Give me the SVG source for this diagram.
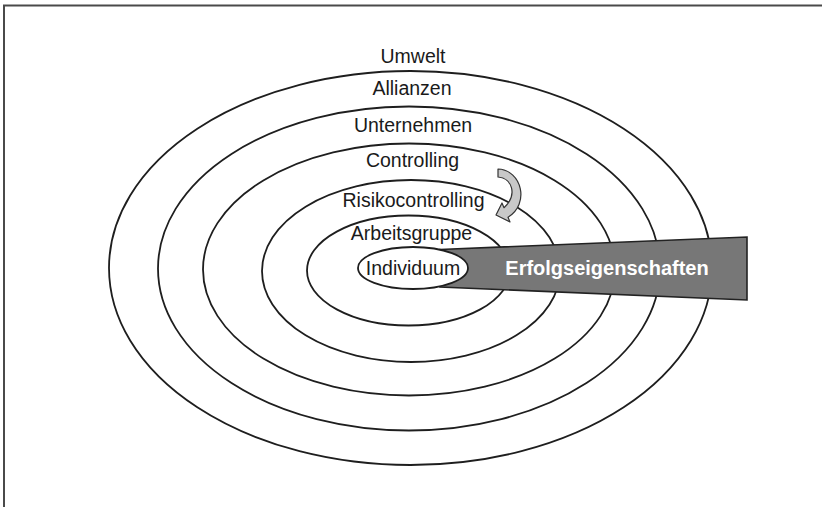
<svg xmlns="http://www.w3.org/2000/svg" width="822" height="507" viewBox="0 0 822 507">
  <style>
    .ring { fill: none; stroke: #1e1e1e; stroke-width: 1.8; }
    .lbl { font-family: "Liberation Sans", Arial, sans-serif; font-size: 19.5px; fill: #1a1a1a; text-anchor: middle; }
    .wlbl { font-family: "Liberation Sans", Arial, sans-serif; font-size: 20px; font-weight: bold; fill: #ffffff; text-anchor: middle; }
  </style>
  <rect width="822" height="507" fill="#ffffff"/>
  <g id="frame">
    <path d="M 4 507 L 4 5.5 L 822 5.5" fill="none" stroke="#4a4a4a" stroke-width="2"/>
  </g>
  <g id="umwelt">
    <text class="lbl" x="413" y="63">Umwelt</text>
  </g>
  <g id="allianzen">
    <ellipse class="ring" cx="410.5" cy="268" rx="301.5" ry="197"/>
    <text class="lbl" x="412" y="95">Allianzen</text>
  </g>
  <g id="unternehmen">
    <ellipse class="ring" cx="409" cy="268.5" rx="251" ry="162"/>
    <text class="lbl" x="413" y="132">Unternehmen</text>
  </g>
  <g id="controlling">
    <ellipse class="ring" cx="409" cy="269.5" rx="206" ry="126"/>
    <text class="lbl" x="412.5" y="167">Controlling</text>
  </g>
  <g id="risikocontrolling">
    <ellipse class="ring" cx="411" cy="271" rx="149" ry="91"/>
    <text class="lbl" x="413.5" y="207">Risikocontrolling</text>
  </g>
  <g id="arbeitsgruppe">
    <ellipse class="ring" cx="408.5" cy="270.5" rx="101.5" ry="55"/>
    <text class="lbl" x="411.5" y="240">Arbeitsgruppe</text>
  </g>
  <g id="erfolgseigenschaften">
    <polygon points="440,249.5 747,237 747,300 440,287" fill="#777777" stroke="#222222" stroke-width="1.6"/>
    <text class="wlbl" x="607" y="275">Erfolgseigenschaften</text>
  </g>
  <g id="individuum">
    <ellipse cx="413" cy="268" rx="55" ry="21" fill="#ffffff" stroke="#1e1e1e" stroke-width="1.8"/>
    <text class="lbl" x="413" y="275">Individuum</text>
  </g>
  <g id="connectors">
    <path d="M 498 169 C 522 170 530 204 508 217.25 L 510 222 L 496 215 L 502 203 L 504 207.75 C 518 195 512 178 498 177 Z" fill="#c8c8c8" stroke="#333333" stroke-width="1.2" stroke-linejoin="round"/>
  </g>
</svg>
